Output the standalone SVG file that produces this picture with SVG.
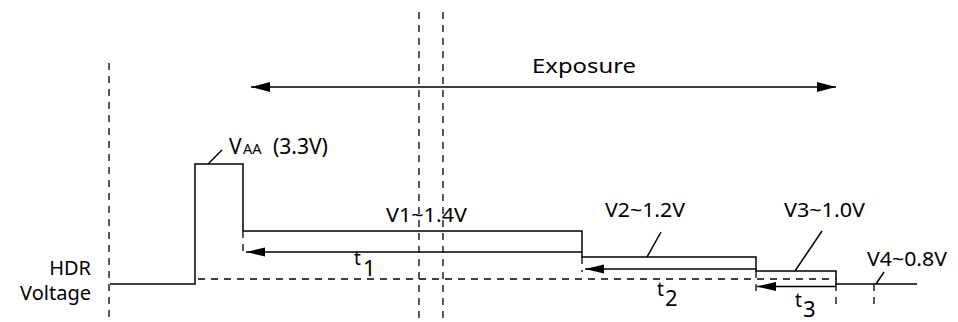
<svg xmlns="http://www.w3.org/2000/svg" width="958" height="322" viewBox="0 0 958 322">
  <style>
    .solid { fill: none; stroke: #000; stroke-width: 1.5; }
    .dash { fill: none; stroke: #000; stroke-width: 1.3; stroke-dasharray: 7 6; }
    .arr { fill: none; stroke: #000; stroke-width: 1.6; }
    .lbl { font-family: "Noto Sans", "Open Sans", sans-serif; font-size: 20px; fill: #000; }
    .tt { font-family: "Noto Sans", "Open Sans", sans-serif; font-size: 19px; fill: #000; }
    .td { font-family: "Noto Sans", "Open Sans", sans-serif; font-size: 22px; fill: #000; }
  </style>
  <defs>
    <marker id="ahBig" markerUnits="userSpaceOnUse" markerWidth="20" markerHeight="11" refX="19" refY="5" orient="auto-start-reverse" viewBox="0 0 20 10">
      <path d="M0,0 L19,5 L0,10 Z" fill="#000"/>
    </marker>
    <marker id="ah" markerUnits="userSpaceOnUse" markerWidth="20" markerHeight="10" refX="19" refY="4.5" orient="auto" viewBox="0 0 20 9">
      <path d="M0,0 L19,4.5 L0,9 Z" fill="#000"/>
    </marker>
  </defs>
  <rect width="958" height="322" fill="#fff"/>

  <g id="guides">
    <path class="dash" d="M109,63 V322"/>
    <path class="dash" d="M419,12 V322"/>
    <path class="dash" d="M443,12 V322"/>
    <path class="dash" d="M198,279 H836"/>
    <path class="dash" d="M243,231 V257"/>
    <path class="dash" d="M582,257 V272"/>
    <path class="dash" d="M756,271 V292"/>
    <path class="dash" d="M836,284 V310"/>
    <path class="dash" d="M874,284 V310"/>
  </g>

  <g id="waveform">
    <path class="solid" d="M110,284 H195 V164 H243 V231 H582 V257 H756 V271 H836 V284 H917"/>
  </g>

  <g id="connectors">
    <path class="arr" d="M251,87 H836" marker-start="url(#ahBig)" marker-end="url(#ahBig)"/>
    <path class="arr" d="M582,252 H246" marker-end="url(#ah)"/>
    <path class="arr" d="M756,269 H585" marker-end="url(#ah)"/>
    <path class="arr" d="M836,286.5 H757" marker-end="url(#ah)"/>
    <path class="solid" d="M208,164 L222,150"/>
    <path class="solid" d="M647,257 L661,232"/>
    <path class="solid" d="M795,271 L822,231"/>
    <path class="solid" d="M876,284 L884,272"/>
  </g>

  <g id="label-exposure">
    <text class="lbl" x="532" y="73" font-size="21" textLength="104" lengthAdjust="spacingAndGlyphs">Exposure</text>
  </g>
  <g id="label-vaa">
    <text class="lbl" y="153.5"><tspan x="229" font-size="21">V</tspan><tspan x="243" font-size="14.5">AA</tspan><tspan x="273" font-size="21">(3.3V)</tspan></text>
  </g>
  <g id="label-hdr">
    <text class="lbl" x="91" y="275" text-anchor="end">HDR</text>
    <text class="lbl" x="91" y="299.5" text-anchor="end">Voltage</text>
  </g>
  <g id="label-v1">
    <text class="lbl" x="386" y="222" textLength="81" lengthAdjust="spacingAndGlyphs">V1~1.4V</text>
  </g>
  <g id="label-v2">
    <text class="lbl" x="605" y="217" textLength="80" lengthAdjust="spacingAndGlyphs">V2~1.2V</text>
  </g>
  <g id="label-v3">
    <text class="lbl" x="784" y="217" textLength="81" lengthAdjust="spacingAndGlyphs">V3~1.0V</text>
  </g>
  <g id="label-v4">
    <text class="lbl" x="867" y="266" textLength="80" lengthAdjust="spacingAndGlyphs">V4~0.8V</text>
  </g>
  <g id="label-t1">
    <text class="tt" x="354" y="265">t</text>
    <text class="td" x="363" y="276">1</text>
  </g>
  <g id="label-t2">
    <text class="tt" x="657" y="296">t</text>
    <text class="td" x="665" y="306">2</text>
  </g>
  <g id="label-t3">
    <text class="tt" x="795" y="307">t</text>
    <text class="td" x="803" y="316.5">3</text>
  </g>
</svg>
